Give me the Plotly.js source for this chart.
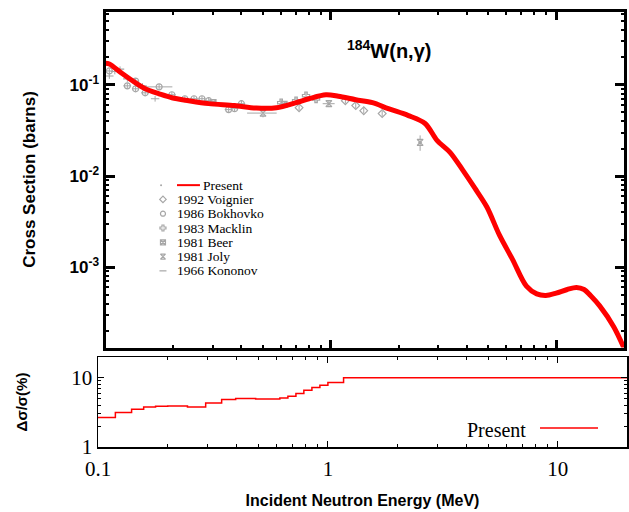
<!DOCTYPE html>
<html>
<head>
<meta charset="utf-8">
<script src="https://cdn.plot.ly/plotly-3.0.1.min.js"></script>
<style>
html,body{margin:0;padding:0;background:#fff;}
#chart{width:629px;height:512px;}
</style>
</head>
<body>
<div id="chart"></div>
<script>
// ---------- DATA ----------
// Present evaluation: capture cross section (barns) vs incident energy (MeV)
const presentEnergy = [0.100, 0.104, 0.119, 0.136, 0.150, 0.173, 0.197, 0.234, 0.287, 0.374, 0.467, 0.573, 0.701, 0.800, 0.951, 1.08, 1.29, 1.53, 1.80, 2.21, 2.62, 2.96, 3.38, 3.85, 4.35, 4.92, 5.61, 6.40, 7.38, 8.2, 9.0, 10.0, 11.2, 12.3, 13.3, 14.2, 15.6, 18.0, 20.0];
const presentXS     = [0.172, 0.169, 0.132, 0.105, 0.0905, 0.0798, 0.0722, 0.0670, 0.0622, 0.0592, 0.0556, 0.0560, 0.0637, 0.0704, 0.0778, 0.0750, 0.0687, 0.0637, 0.0548, 0.0460, 0.0377, 0.0246, 0.0182, 0.0116, 0.0074, 0.0046, 0.00223, 0.00122, 0.00062, 0.00051, 0.00049, 0.00052, 0.00057, 0.00060, 0.00057, 0.00049, 0.000377, 0.000223, 0.000130];

// Experimental data
const voignierE  = [0.723, 1.16, 1.29, 1.40, 1.69];
const voignierXS = [0.0562, 0.0670, 0.0592, 0.0521, 0.0484];

const bokhovkoE  = [0.104, 0.125, 0.136, 0.136, 0.150, 0.173, 0.197, 0.225, 0.247, 0.268, 0.287, 0.352, 0.374, 0.401];
const bokhovkoXS = [0.142, 0.0975, 0.110, 0.0905, 0.0818, 0.095, 0.0778, 0.0704, 0.0704, 0.0704, 0.0670, 0.0535, 0.0548, 0.0621];
const bokhovkoDE = [0.004, 0.005, 0.005, 0.005, 0.006, 0.025, 0.008, 0.009, 0.010, 0.010, 0.011, 0.014, 0.015, 0.016];

const macklinE  = [0.602, 0.701, 0.776, 0.860];
const macklinXS = [0.0637, 0.0670, 0.0760, 0.0700];

const beerE  = [0.30, 0.62];
const beerXS = [0.064, 0.061];

const jolyE  = [0.50, 0.98, 2.49];
const jolyXS = [0.0490, 0.0621, 0.0234];
const jolyDE = [0.075, 0.06, 0.05];
const jolyDXS= [0.005, 0.005, 0.0045];

const kononovE  = [0.104, 0.110, 0.116, 0.125, 0.146, 0.166];
const kononovXS = [0.125, 0.140, 0.149, 0.116, 0.0975, 0.0704];

// Uncertainty of present evaluation (%), step edges (MeV)
const uncEdges = [0.1, 0.119, 0.140, 0.158, 0.178, 0.201, 0.245, 0.294, 0.345, 0.397, 0.485, 0.618, 0.670, 0.726, 0.786, 0.852, 0.923, 1.0, 1.17, 20];
const uncVals  = [2.66, 3.14, 3.51, 3.80, 3.88, 3.93, 3.80, 4.34, 4.85, 5.02, 4.96, 5.13, 5.42, 5.93, 6.63, 7.24, 7.83, 8.56, 10.0];

// Tick labels
const xTickVals = [0.1, 1, 10];
const xTickText = ['0.1', '1', '10'];
const yTopTickVals = [0.001, 0.01, 0.1];
const yTopTickText = ['10<sup>-3</sup>', '10<sup>-2</sup>', '10<sup>-1</sup>'];
const yBotTickVals = [1, 10];
const yBotTickText = ['1', '10'];

// Legend
const legendNames = ['Present', '1992 Voignier', '1986 Bokhovko', '1983 Macklin', '1981 Beer', '1981 Joly', '1966 Kononov'];
const legendSymbols = [null, 'diamond-open', 'circle-open', 'cross-open', 'square-x-open', 'hourglass-open', 'line-ew-open'];

// ---------- LAYOUT HELPERS ----------
const W = 629, H = 512;
const fx = p => p / W;
const fy = p => 1 - p / H;
const GRAY = '#a6a6a6';
const RED = '#ff0000';
const SANS = 'Liberation Sans, Arial, sans-serif';
const SERIF = 'Liberation Serif, Times New Roman, serif';

function minorVals(decades) {
  const out = [];
  decades.forEach(d => { for (let k = 2; k <= 9; k++) out.push(k * d); });
  return out;
}

// ---------- TRACES ----------
const traces = [];

function expTrace(x, y, symbol, opts) {
  opts = opts || {};
  const t = {
    x: x, y: y, type: 'scatter', mode: 'markers', xaxis: 'x', yaxis: 'y',
    showlegend: false, hoverinfo: 'skip',
    marker: {symbol: symbol, size: 6, color: GRAY, line: {color: GRAY, width: 1.2}},
    error_y: opts.ey ? {type: 'data', array: opts.ey, color: GRAY, thickness: 1, width: 0}
                     : {type: 'percent', value: 7, color: GRAY, thickness: 1, width: 0}
  };
  if (opts.ex) t.error_x = {type: 'data', array: opts.ex, color: GRAY, thickness: 1, width: 0};
  return t;
}

traces.push(expTrace(kononovE, kononovXS, 'line-ew-open'));
traces.push(expTrace(jolyE, jolyXS, 'hourglass-open', {ex: jolyDE, ey: jolyDXS}));
traces.push(expTrace(beerE, beerXS, 'square-x-open'));
traces.push(expTrace(macklinE, macklinXS, 'cross-open'));
traces.push(expTrace(bokhovkoE, bokhovkoXS, 'circle-open', {ex: bokhovkoDE}));
traces.push(expTrace(voignierE, voignierXS, 'diamond-open'));

// Present band
traces.push({x: presentEnergy, y: presentXS, type: 'scatter', mode: 'lines', xaxis: 'x', yaxis: 'y',
  line: {color: RED, width: 5, shape: 'spline', smoothing: 0.9}, showlegend: false, hoverinfo: 'skip'});

// Uncertainty steps
traces.push({x: uncEdges, y: uncVals.concat([uncVals[uncVals.length - 1]]), type: 'scatter', mode: 'lines',
  xaxis: 'x2', yaxis: 'y2', line: {color: RED, width: 1.5, shape: 'hv'}, showlegend: false, hoverinfo: 'skip'});

// Manual legend in a helper axis (keys only)
const annotations = [];
legendNames.forEach((name, i) => {
  if (i === 0) {
    traces.push({x: [0.163, 0.333], y: [i, i], type: 'scatter', mode: 'lines', xaxis: 'x3', yaxis: 'y3',
      line: {color: RED, width: 2}, showlegend: false, hoverinfo: 'skip', cliponaxis: false});
    traces.push({x: [0.045], y: [i], type: 'scatter', mode: 'markers', xaxis: 'x3', yaxis: 'y3',
      marker: {size: 2, color: GRAY}, showlegend: false, hoverinfo: 'skip', cliponaxis: false});
    annotations.push({xref: 'x3', yref: 'y3', x: 0.34, y: i, text: name, showarrow: false,
      xanchor: 'left', yanchor: 'middle', font: {family: SERIF, size: 13.5, color: '#000'}});
  } else {
    traces.push({x: [0.059], y: [i], type: 'scatter', mode: 'markers', xaxis: 'x3', yaxis: 'y3',
      marker: {symbol: legendSymbols[i], size: 5, color: GRAY, line: {color: GRAY, width: 1.2}},
      showlegend: false, hoverinfo: 'skip', cliponaxis: false});
    annotations.push({xref: 'x3', yref: 'y3', x: 0.145, y: i, text: name, showarrow: false,
      xanchor: 'left', yanchor: 'middle', font: {family: SERIF, size: 13.5, color: '#000'}});
  }
});

// Title of reaction
annotations.push({xref: 'paper', yref: 'paper', x: fx(389), y: fy(49), text: '<b><sup>184</sup>W(n,γ)</b>',
  showarrow: false, xanchor: 'center', yanchor: 'middle', font: {family: SANS, size: 20, color: '#000'}});
// Bottom legend text
annotations.push({xref: 'paper', yref: 'paper', x: fx(528), y: fy(430), text: 'Present',
  showarrow: false, xanchor: 'right', yanchor: 'middle', font: {family: SERIF, size: 20, color: '#000'}});

const topDecades = [0.0001, 0.001, 0.01, 0.1];
const xDecades = [0.1, 1, 10];

const layout = {
  width: W, height: H,
  margin: {l: 0, r: 0, t: 0, b: 0},
  paper_bgcolor: '#fff', plot_bgcolor: 'rgba(0,0,0,0)',
  showlegend: false,
  xaxis: {
    type: 'log', range: [-1, Math.log10(20)], domain: [fx(105.5), fx(624)], anchor: 'y',
    showline: true, linewidth: 3, linecolor: '#000', mirror: 'allticks',
    ticks: 'inside', ticklen: 8, tickwidth: 3, tickcolor: '#000',
    tickmode: 'array', tickvals: [1, 10], showticklabels: false, showgrid: false, zeroline: false,
    minor: {tickmode: 'array', tickvals: minorVals(xDecades), ticks: 'inside', ticklen: 3, tickwidth: 2, tickcolor: '#000', showgrid: false}
  },
  yaxis: {
    type: 'log', range: [-3.88, -0.196], domain: [fy(347.5), fy(11.5)], anchor: 'x',
    showline: true, linewidth: 3, linecolor: '#000', mirror: 'allticks',
    ticks: 'inside', ticklen: 9, tickwidth: 3, tickcolor: '#000',
    tickmode: 'array', tickvals: yTopTickVals, ticktext: yTopTickText,
    tickfont: {family: SANS, size: 17, color: '#000', weight: 'bold'},
    showgrid: false, zeroline: false,
    minor: {tickmode: 'array', tickvals: minorVals(topDecades), ticks: 'inside', ticklen: 3, tickwidth: 2, tickcolor: '#000', showgrid: false},
    title: {text: 'Cross Section (barns)', font: {family: SANS, size: 17, color: '#000', weight: 'bold'}, standoff: 30}
  },
  xaxis2: {
    type: 'log', range: [-1, Math.log10(20)], domain: [fx(98), fx(627)], anchor: 'y2',
    showline: true, linewidth: 1.5, linecolor: '#000', mirror: 'allticks',
    ticks: 'inside', ticklen: 6, tickwidth: 1, tickcolor: '#000',
    tickmode: 'array', tickvals: xTickVals, ticktext: xTickText,
    tickfont: {family: SERIF, size: 21, color: '#000'}, ticklabelstandoff: 2,
    showgrid: false, zeroline: false,
    minor: {tickmode: 'array', tickvals: minorVals(xDecades), ticks: 'inside', ticklen: 3, tickwidth: 1, tickcolor: '#000', showgrid: false},
    title: {text: 'Incident Neutron Energy (MeV)', font: {family: SANS, size: 16, color: '#000', weight: 'bold'}, standoff: 15}
  },
  yaxis2: {
    type: 'log', range: [0, Math.log10(20)], domain: [fy(447), fy(357)], anchor: 'x2',
    showline: true, linewidth: 1.5, linecolor: '#000', mirror: 'allticks',
    ticks: 'inside', ticklen: 6, tickwidth: 1, tickcolor: '#000',
    tickmode: 'array', tickvals: yBotTickVals, ticktext: yBotTickText,
    tickfont: {family: SERIF, size: 21, color: '#000'},
    showgrid: false, zeroline: false,
    minor: {tickmode: 'array', tickvals: minorVals([1, 10]), ticks: 'inside', ticklen: 3, tickwidth: 1, tickcolor: '#000', showgrid: false},
    title: {text: 'Δσ/σ(%)', font: {family: SANS, size: 15, color: '#000', weight: 'bold'}, standoff: 40}
  },
  xaxis3: {domain: [fx(155), fx(290)], range: [0, 1], anchor: 'y3', visible: false, fixedrange: true},
  yaxis3: {domain: [fy(278), fy(178)], range: [6.5, -0.5], anchor: 'x3', visible: false, fixedrange: true},
  annotations: annotations,
  shapes: [{type: 'line', xref: 'paper', yref: 'paper', x0: fx(540), x1: fx(598), y0: fy(428), y1: fy(428),
    line: {color: RED, width: 1.5}}]
};

Plotly.newPlot('chart', traces, layout, {displayModeBar: false, staticPlot: true});
</script>
</body>
</html>
